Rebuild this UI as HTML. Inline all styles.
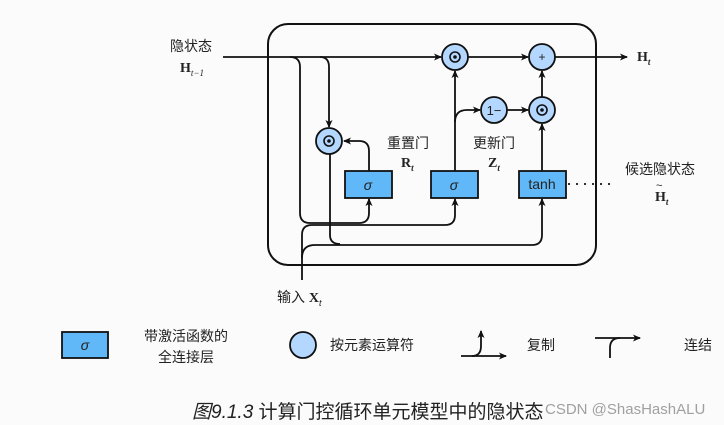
<!DOCTYPE html>
<html><head><meta charset="utf-8"><style>
body{margin:0;background:#fbfbfb;}
svg{display:block;}
text{font-family:"Liberation Sans","Noto Sans CJK SC",sans-serif;fill:#222;}
.s{font-family:"Liberation Serif","Noto Serif CJK SC",serif;font-weight:bold;}
</style></head><body>
<svg width="724" height="425" viewBox="0 0 724 425" xmlns="http://www.w3.org/2000/svg">
<defs><marker id="a" markerWidth="8" markerHeight="8" refX="7" refY="4" orient="auto" markerUnits="userSpaceOnUse"><path d="M0,0.5 L8,4 L0,7.5 L2,4 Z" fill="#111"/></marker></defs>
<rect width="724" height="425" fill="#fbfbfb"/>
<rect x="268" y="24" width="328" height="241" rx="20" fill="none" stroke="#111" stroke-width="2"/>
<g fill="none" stroke="#111" stroke-width="1.8">
<path d="M223,57 L441,57" marker-end="url(#a)"/>
<path d="M290,57 Q300,57 300,67 L300,213 Q300,223 310,223 L359,223 Q369,223 369,213 L369,199" marker-end="url(#a)"/>
<path d="M320,57 Q329,57 329,67 L329,127" marker-end="url(#a)"/>
<path d="M302,280 L302,235 Q302,225 312,225 L445,225 Q455,225 455,215 L455,199" marker-end="url(#a)"/>
<path d="M302,258 Q302,245 315,245 L532,245 Q542,245 542,235 L542,199" marker-end="url(#a)"/>
<path d="M330,154 L330,235 Q330,244 340,244"/>
<path d="M369,171 L369,151 Q369,141 359,141 L344,141" marker-end="url(#a)"/>
<path d="M455,171 L455,71" marker-end="url(#a)"/>
<path d="M455,122 Q455,110 467,110 L480,110" marker-end="url(#a)"/>
<path d="M507,110 L528,110" marker-end="url(#a)"/>
<path d="M468,57 L528,57" marker-end="url(#a)"/>
<path d="M542,171 L542,124" marker-end="url(#a)"/>
<path d="M542,97 L542,71" marker-end="url(#a)"/>
<path d="M555,57 L627,57" marker-end="url(#a)"/>
<path d="M568,184 L610,184" stroke-dasharray="2,6"/>
</g>
<g stroke="#111" stroke-width="1.8" fill="#b3d7ff">
<circle cx="455" cy="57" r="13"/><circle cx="542" cy="57" r="13"/>
<circle cx="494" cy="110" r="13"/><circle cx="542" cy="110" r="13"/>
<circle cx="329" cy="141" r="13"/>
<circle cx="303" cy="345" r="13"/>
</g>
<g fill="none" stroke="#111" stroke-width="1.6">
<circle cx="455" cy="57" r="5"/><circle cx="542" cy="110" r="5"/><circle cx="329" cy="141" r="5"/>
</g>
<g fill="#111"><circle cx="455" cy="57" r="1.8"/><circle cx="542" cy="110" r="1.8"/><circle cx="329" cy="141" r="1.8"/></g>
<text x="542" y="61" font-size="12" text-anchor="middle">+</text>
<text x="494" y="115" font-size="13" text-anchor="middle" font-family="Liberation Serif">1−</text>
<g stroke="#111" stroke-width="1.8" fill="#60b8f8">
<rect x="345" y="171" width="47" height="27"/><rect x="431" y="171" width="47" height="27"/><rect x="519" y="171" width="47" height="27"/>
<rect x="62" y="332" width="46" height="26"/>
</g>
<text x="368" y="190" font-size="14" text-anchor="middle" font-style="italic">σ</text>
<text x="454" y="190" font-size="14" text-anchor="middle" font-style="italic">σ</text>
<text x="542" y="189" font-size="14" text-anchor="middle">tanh</text>
<text x="85" y="350" font-size="14" text-anchor="middle" font-style="italic">σ</text>
<text x="170" y="51" font-size="14">隐状态</text>
<text x="180" y="72" font-size="14" class="s">H<tspan font-size="9" font-style="italic" font-weight="normal" dy="4">t−1</tspan></text>
<text x="387" y="148" font-size="14">重置门</text>
<text x="401" y="167" font-size="14" class="s">R<tspan font-size="9" font-style="italic" dy="4">t</tspan></text>
<text x="473" y="148" font-size="14">更新门</text>
<text x="488" y="167" font-size="14" class="s">Z<tspan font-size="9" font-style="italic" dy="4">t</tspan></text>
<text x="625" y="174" font-size="14">候选隐状态</text>
<text x="655" y="201" font-size="14" class="s">H<tspan font-size="9" font-style="italic" dy="4">t</tspan></text>
<text x="656" y="189" font-size="11">~</text>
<text x="637" y="61" font-size="14" class="s">H<tspan font-size="9" font-style="italic" dy="4">t</tspan></text>
<text x="277" y="302" font-size="14">输入 <tspan class="s">X</tspan><tspan font-size="9" font-style="italic" dy="4">t</tspan></text>
<text x="144" y="341" font-size="14">带激活函数的</text>
<text x="158" y="362" font-size="14">全连接层</text>
<text x="330" y="350" font-size="14">按元素运算符</text>
<text x="527" y="350" font-size="14">复制</text>
<text x="684" y="350" font-size="14">连结</text>
<g fill="none" stroke="#111" stroke-width="1.8">
<path d="M461,356 L506,356" marker-end="url(#a)"/>
<path d="M472,356 Q481,356 481,346 L481,331" marker-end="url(#a)"/>
<path d="M595,338 L640,338" marker-end="url(#a)"/>
<path d="M610,358 L610,348 Q610,338 620,338"/>
</g>
<text x="192" y="418" font-size="19"><tspan font-style="italic">图9.1.3</tspan> 计算门控循环单元模型中的隐状态</text>
<text x="545" y="414" font-size="15" style="fill:#a0a0a0">CSDN @ShasHashALU</text>
</svg>
</body></html>
